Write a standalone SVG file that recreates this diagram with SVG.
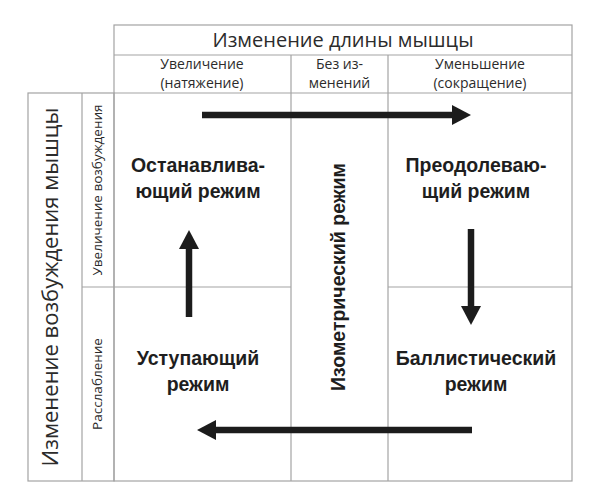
<svg xmlns="http://www.w3.org/2000/svg" width="591" height="504" viewBox="0 0 591 504">
<style>
.grid{fill:none;stroke:#a3a3a3;stroke-width:1.2}
.t{font-family:"Open Sans","Noto Sans","DejaVu Sans",sans-serif;fill:#2b2b2b;text-anchor:middle}
.title{font-size:20px}
.sub{font-size:14px}
.side{font-size:22px}
.small{font-size:13.5px}
.b{font-family:"Liberation Sans","Arimo",Arial,sans-serif;font-weight:bold;font-size:19.5px;fill:#1e1e1e}
.arr{stroke:#1c1c1c;stroke-width:6.5;fill:none}
</style>
<defs>
<marker id="head" markerUnits="userSpaceOnUse" markerWidth="19" markerHeight="20" refX="0" refY="10" orient="auto" overflow="visible">
<path d="M0,0 L19,10 L0,20 Z" fill="#1c1c1c"/>
</marker>
</defs>
<rect width="591" height="504" fill="#ffffff"/>
<g id="grid">
<rect class="grid" x="114" y="25" width="458" height="456"/>
<line class="grid" x1="114" y1="55" x2="572" y2="55"/>
<line class="grid" x1="114" y1="93" x2="572" y2="93"/>
<line class="grid" x1="291" y1="55" x2="291" y2="481"/>
<line class="grid" x1="388" y1="55" x2="388" y2="481"/>
<line class="grid" x1="82" y1="287" x2="291" y2="287"/>
<line class="grid" x1="388" y1="287" x2="572" y2="287"/>
<rect class="grid" x="28" y="93" width="86" height="388"/>
<line class="grid" x1="82" y1="93" x2="82" y2="481"/>
</g>
<g id="header-length">
<text class="t title" x="343" y="47">Изменение длины мышцы</text>
</g>
<g id="col-increase">
<text class="t sub" x="202" y="69">Увеличение</text>
<text class="t sub" x="202" y="88">(натяжение)</text>
</g>
<g id="col-nochange">
<text class="t sub" x="339.5" y="69">Без из-</text>
<text class="t sub" x="339.5" y="88">менений</text>
</g>
<g id="col-decrease">
<text class="t sub" x="480" y="69">Уменьшение</text>
<text class="t sub" x="480" y="88">(сокращение)</text>
</g>
<g id="header-excitation">
<text class="t side" transform="translate(58,287) rotate(-90)">Изменение возбуждения мышцы</text>
</g>
<g id="row-increase">
<text class="t small" transform="translate(102,190) rotate(-90)">Увеличение возбуждения</text>
</g>
<g id="row-relax">
<text class="t small" transform="translate(102,384) rotate(-90)">Расслабление</text>
</g>
<g id="stopping">
<text class="t b" x="198" y="172">Останавлива-</text>
<text class="t b" x="198" y="198">ющий режим</text>
</g>
<g id="overcoming">
<text class="t b" x="476" y="172">Преодолеваю-</text>
<text class="t b" x="476" y="198">щий режим</text>
</g>
<g id="yielding">
<text class="t b" x="198" y="365">Уступающий</text>
<text class="t b" x="198" y="391">режим</text>
</g>
<g id="ballistic">
<text class="t b" x="476" y="365">Баллистический</text>
<text class="t b" x="476" y="391">режим</text>
</g>
<g id="isometric">
<text class="t b" transform="translate(345,277) rotate(-90)">Изометрический режим</text>
</g>
<g id="connectors">
<line class="arr" x1="202" y1="115" x2="452" y2="115" marker-end="url(#head)"/>
<line class="arr" x1="471" y1="229" x2="471" y2="306" marker-end="url(#head)"/>
<line class="arr" x1="472" y1="430" x2="216" y2="430" marker-end="url(#head)"/>
<line class="arr" x1="189" y1="317" x2="189" y2="249" marker-end="url(#head)"/>
</g>
</svg>
